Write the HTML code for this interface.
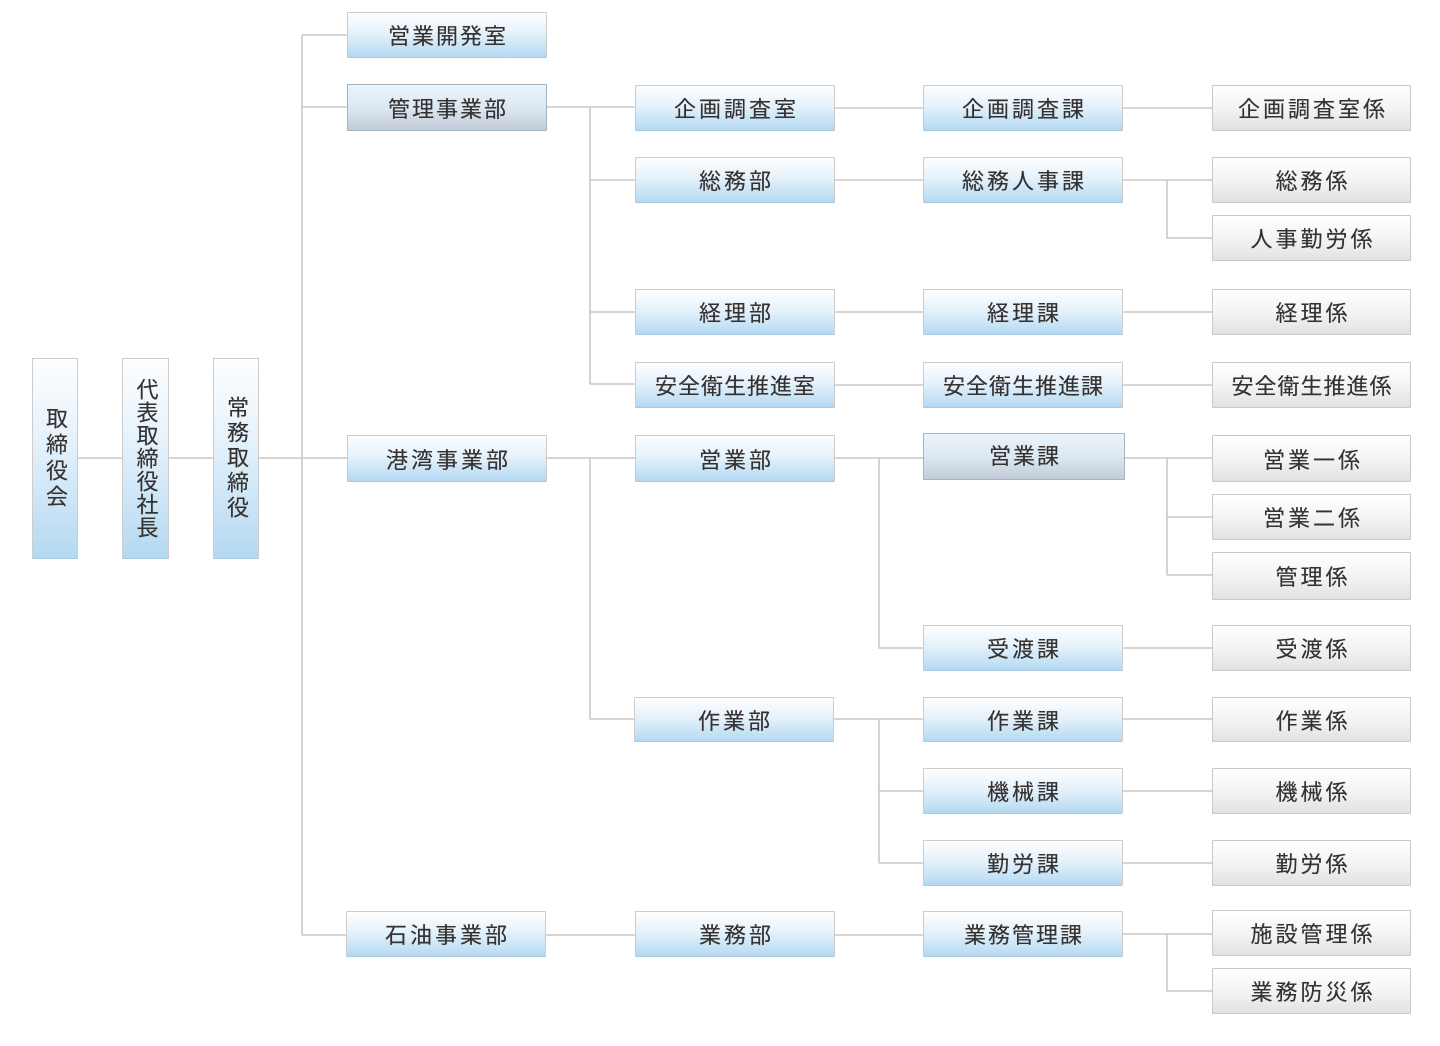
<!DOCTYPE html>
<html>
<head>
<meta charset="utf-8">
<style>
html,body{margin:0;padding:0;background:#fff;}
body{width:1440px;height:1046px;position:relative;overflow:hidden;font-family:"Liberation Sans","Noto Sans CJK JP",sans-serif;}
svg{position:absolute;left:0;top:0;}
.b{position:absolute;box-sizing:border-box;display:flex;align-items:center;justify-content:center;font-size:22px;letter-spacing:3px;padding-left:3px;color:#353232;border:1px solid #cfcccc;border-radius:1px;white-space:nowrap;text-shadow:0 0 0.4px #555;}
.n{letter-spacing:1px;padding-left:1px;}
.m{letter-spacing:2px;padding-left:2px;}
.bl{background:linear-gradient(to bottom,#fdfeff 0%,#e6f2fb 45%,#b4d9f2 100%);border-bottom-color:#a9c9e2;}
.gr{background:linear-gradient(to bottom,#ffffff 0%,#f4f4f4 50%,#e2e2e2 100%);border-color:#c9c7c7;}
.sp{background:linear-gradient(to bottom,#eaf4fc 0%,#dce8f2 50%,#c2ccd6 100%);border-color:#9fb3c6;}
.v{position:absolute;box-sizing:border-box;border:1px solid #cfcccc;border-bottom-color:#a9c9e2;background:linear-gradient(to bottom,#fdfeff 0%,#e6f2fb 40%,#b4d9f2 100%);display:flex;align-items:center;justify-content:center;color:#353232;font-size:22px;text-shadow:0 0 0.4px #555;}
.v span{writing-mode:vertical-rl;line-height:1;}
</style>
</head>
<body>
<svg width="1440" height="1046" viewBox="0 0 1440 1046">
<g stroke="#cbc7c7" stroke-width="1.6" fill="none">
<path d="M78 458H122M169 458H213M259 458H302"/>
<path d="M302 35V935"/>
<path d="M302 35H347M302 107H347M302 458H347M302 935H347"/>
<path d="M547 107H635M590 107V384M590 180H635M590 312H635M590 384H635"/>
<path d="M547 458H635M590 458V719H635"/>
<path d="M546 935H635"/>
<path d="M835 108H923M835 180H923M835 312H923M835 385H923"/>
<path d="M835 458H923M879 458V648H923"/>
<path d="M834 719H923M879 719V863M879 791H923M879 863H923"/>
<path d="M835 935H923"/>
<path d="M1123 108H1212M1123 180H1212M1167 180V238H1212"/>
<path d="M1123 312H1212M1123 385H1212"/>
<path d="M1125 458H1212M1167 458V575M1167 517H1212M1167 575H1212"/>
<path d="M1123 648H1212M1123 719H1212M1123 791H1212M1123 863H1212"/>
<path d="M1123 934H1212M1167 934V991H1212"/>
</g>
</svg>

<div class="v" style="left:32px;top:358px;width:46px;height:201px;"><span style="letter-spacing:4px;">取締役会</span></div>
<div class="v" style="left:122px;top:358px;width:47px;height:201px;"><span style="letter-spacing:1px;">代表取締役社長</span></div>
<div class="v" style="left:213px;top:358px;width:46px;height:201px;"><span style="letter-spacing:3px;">常務取締役</span></div>

<div class="b bl m" style="left:347px;top:12px;width:200px;height:46px;">営業開発室</div>
<div class="b sp m" style="left:347px;top:84px;width:200px;height:47px;">管理事業部</div>
<div class="b bl" style="left:347px;top:435px;width:200px;height:47px;">港湾事業部</div>
<div class="b bl" style="left:346px;top:911px;width:200px;height:46px;">石油事業部</div>

<div class="b bl" style="left:635px;top:85px;width:200px;height:46px;">企画調査室</div>
<div class="b bl" style="left:635px;top:157px;width:200px;height:46px;">総務部</div>
<div class="b bl" style="left:635px;top:289px;width:200px;height:46px;">経理部</div>
<div class="b bl n" style="left:635px;top:362px;width:200px;height:46px;">安全衛生推進室</div>
<div class="b bl" style="left:635px;top:435px;width:200px;height:47px;">営業部</div>
<div class="b bl" style="left:634px;top:697px;width:200px;height:45px;">作業部</div>
<div class="b bl" style="left:635px;top:911px;width:200px;height:46px;">業務部</div>

<div class="b bl" style="left:923px;top:85px;width:200px;height:46px;">企画調査課</div>
<div class="b bl" style="left:923px;top:157px;width:200px;height:46px;">総務人事課</div>
<div class="b bl" style="left:923px;top:289px;width:200px;height:46px;">経理課</div>
<div class="b bl n" style="left:923px;top:362px;width:200px;height:46px;">安全衛生推進課</div>
<div class="b sp m" style="left:923px;top:433px;width:202px;height:47px;padding-bottom:4px;">営業課</div>
<div class="b bl" style="left:923px;top:625px;width:200px;height:46px;">受渡課</div>
<div class="b bl" style="left:923px;top:697px;width:200px;height:45px;">作業課</div>
<div class="b bl" style="left:923px;top:768px;width:200px;height:46px;">機械課</div>
<div class="b bl" style="left:923px;top:840px;width:200px;height:46px;">勤労課</div>
<div class="b bl m" style="left:923px;top:911px;width:200px;height:46px;">業務管理課</div>

<div class="b gr" style="left:1212px;top:85px;width:199px;height:46px;">企画調査室係</div>
<div class="b gr" style="left:1212px;top:157px;width:199px;height:46px;">総務係</div>
<div class="b gr" style="left:1212px;top:215px;width:199px;height:46px;">人事勤労係</div>
<div class="b gr" style="left:1212px;top:289px;width:199px;height:46px;">経理係</div>
<div class="b gr n" style="left:1212px;top:362px;width:199px;height:46px;">安全衛生推進係</div>
<div class="b gr" style="left:1212px;top:435px;width:199px;height:47px;">営業一係</div>
<div class="b gr" style="left:1212px;top:494px;width:199px;height:46px;">営業二係</div>
<div class="b gr" style="left:1212px;top:552px;width:199px;height:48px;">管理係</div>
<div class="b gr" style="left:1212px;top:625px;width:199px;height:46px;">受渡係</div>
<div class="b gr" style="left:1212px;top:697px;width:199px;height:45px;">作業係</div>
<div class="b gr" style="left:1212px;top:768px;width:199px;height:46px;">機械係</div>
<div class="b gr" style="left:1212px;top:840px;width:199px;height:46px;">勤労係</div>
<div class="b gr" style="left:1212px;top:910px;width:199px;height:46px;">施設管理係</div>
<div class="b gr" style="left:1212px;top:968px;width:199px;height:46px;">業務防災係</div>
</body>
</html>
